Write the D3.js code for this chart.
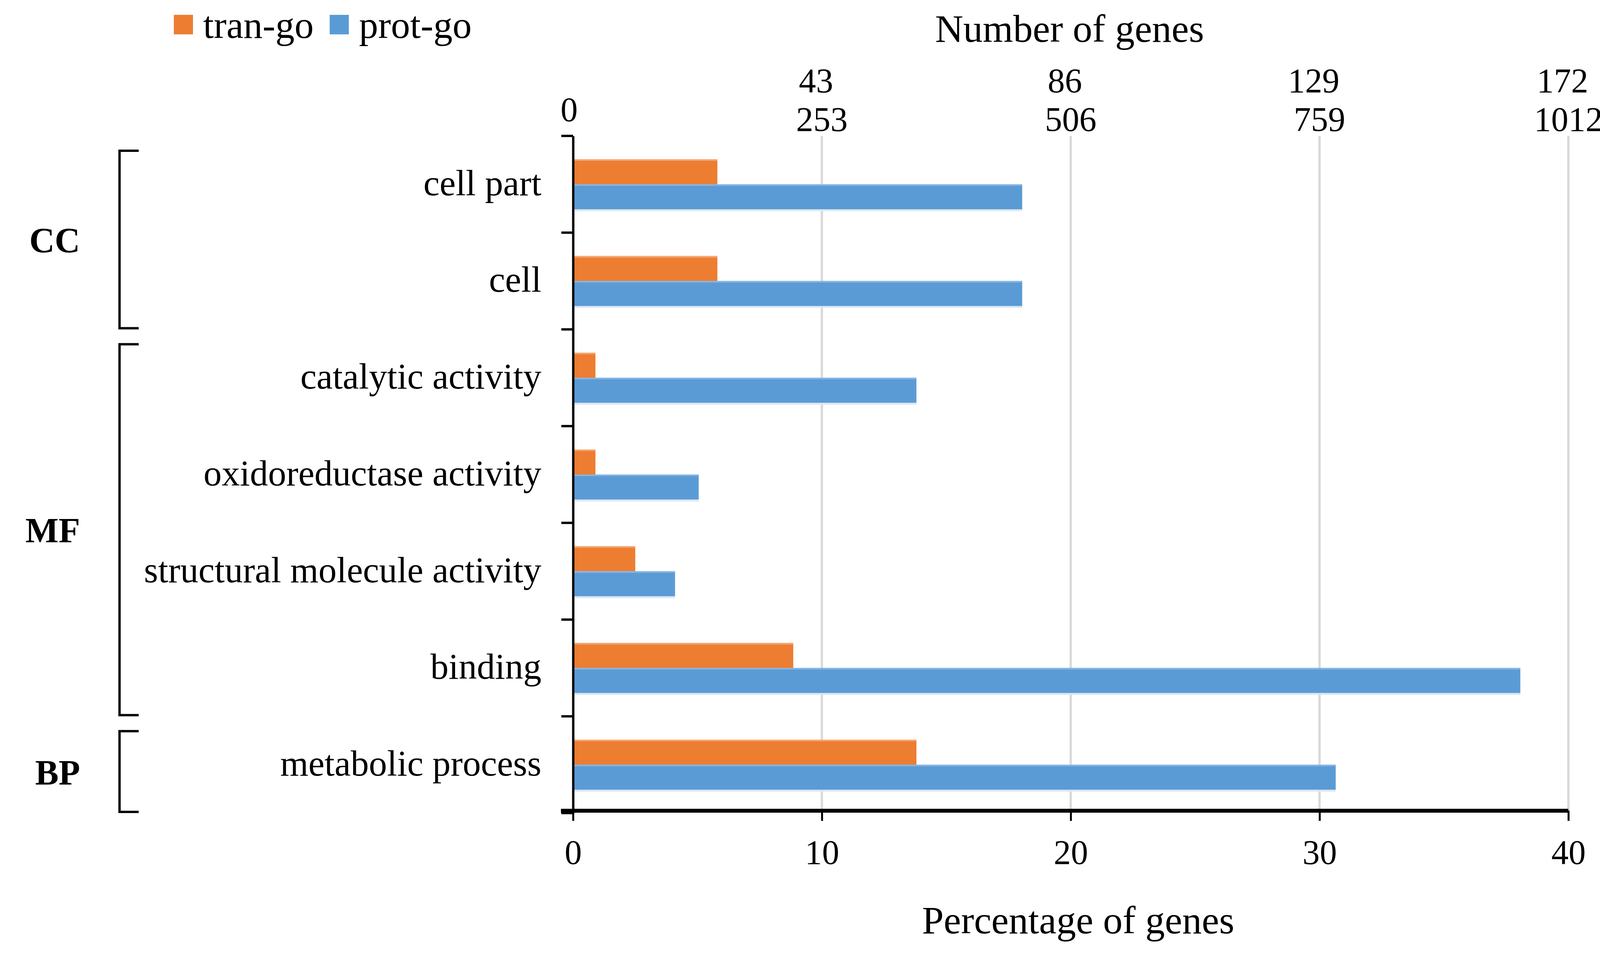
<!DOCTYPE html>
<html>
<head>
<meta charset="utf-8">
<script src="https://cdn.jsdelivr.net/npm/d3@7"></script>
<style>
  body { margin: 0; background: #fff; }
  svg { display: block; font-family: "Liberation Serif", "Times New Roman", serif; }
</style>
</head>
<body>
<svg id="chart"></svg>
<script>
// GO categories, top to bottom
const categories = ['cell part', 'cell', 'catalytic activity', 'oxidoreductase activity',
  'structural molecule activity', 'binding', 'metabolic process'];

// percentage of genes
const tranGo = [5.8, 5.8, 0.9, 0.9, 2.5, 8.85, 13.8];
const protGo = [18.05, 18.05, 13.8, 5.05, 4.1, 38.07, 30.65];

const seriesNames = ['tran-go', 'prot-go'];
const seriesColors = ['#ED7D31', '#5B9BD5'];
const seriesLight = ['#F4A672', '#86B5E2'];
const seriesShadow = ['#FBE3D3', '#DCE8F5'];

const pctTicks = [0, 10, 20, 30, 40];
const tranCountTicks = [43, 86, 129, 172];
const protCountTicks = [253, 506, 759, 1012];

const groupNames = ['CC', 'MF', 'BP'];
const groupFirst = ['cell part', 'catalytic activity', 'metabolic process'];
const groupLast = ['cell', 'binding', 'metabolic process'];

class GoBarChart {
  constructor(_config) {
    this.config = {
      parentElement: _config.parentElement,
      containerWidth: _config.containerWidth || 4133,
      containerHeight: _config.containerHeight || 2448,
      margin: _config.margin || {top: 348, right: 118, bottom: 366, left: 1467}
    };
    this.initVis();
  }

  initVis() {
    let vis = this;
    const m = vis.config.margin;
    vis.left = m.left;
    vis.right = vis.config.containerWidth - m.right;
    vis.top = m.top;
    vis.bottom = vis.config.containerHeight - m.bottom;

    vis.svg = d3.select(vis.config.parentElement)
        .attr('width', vis.config.containerWidth)
        .attr('height', vis.config.containerHeight);

    vis.xScale = d3.scaleLinear().domain([0, 40]).range([vis.left, vis.right]);
    // count scales share the same pixel range
    vis.xTran = d3.scaleLinear().domain([0, 172]).range(vis.xScale.range());
    vis.xProt = d3.scaleLinear().domain([0, 1012]).range(vis.xScale.range());

    vis.yScale = d3.scaleBand()
        .domain(categories)
        .range([vis.top, vis.bottom])
        .paddingInner(0.483)
        .paddingOuter(0.2415);

    vis.ySub = d3.scaleBand()
        .domain(seriesNames)
        .range([0, vis.yScale.bandwidth()]);

    vis.renderVis();
  }

  renderVis() {
    let vis = this;
    const x = vis.xScale, y = vis.yScale;
    const step = y.step();
    const bandTop = c => y(c) - (step - y.bandwidth()) / 2;

    // vertical gridlines
    vis.svg.append('g')
      .selectAll('line')
      .data(pctTicks.slice(1))
      .join('line')
        .attr('x1', d => x(d)).attr('x2', d => x(d))
        .attr('y1', vis.top).attr('y2', vis.bottom)
        .attr('stroke', '#D9D9D9')
        .attr('stroke-width', 6);

    // bars
    const rows = categories.map((c, i) => ({cat: c, values: [tranGo[i], protGo[i]]}));
    const barG = vis.svg.append('g')
      .selectAll('g')
      .data(rows)
      .join('g')
        .attr('transform', d => `translate(0,${y(d.cat)})`);

    const bars = barG.selectAll('g')
      .data(d => d.values.map((v, j) => ({series: seriesNames[j], j: j, value: v})))
      .join('g');

    bars.append('rect')
        .attr('x', x(0))
        .attr('y', d => vis.ySub(d.series) + vis.ySub.bandwidth())
        .attr('width', d => x(d.value) - x(0))
        .attr('height', 5)
        .attr('fill', d => seriesShadow[d.j]);

    bars.append('rect')
        .attr('x', x(0))
        .attr('y', d => vis.ySub(d.series))
        .attr('width', d => x(d.value) - x(0))
        .attr('height', vis.ySub.bandwidth())
        .attr('fill', d => seriesColors[d.j]);

    bars.append('rect')
        .attr('x', x(0))
        .attr('y', d => vis.ySub(d.series))
        .attr('width', d => x(d.value) - x(0))
        .attr('height', 4)
        .attr('fill', d => seriesLight[d.j]);

    // left axis with category labels
    const yAxis = d3.axisLeft(y).tickSize(0).tickSizeOuter(0).tickPadding(81);
    const yAxisG = vis.svg.append('g')
        .attr('transform', `translate(${vis.left},0)`)
        .call(yAxis);
    yAxisG.select('.domain').attr('stroke', '#000').attr('stroke-width', 6);
    yAxisG.selectAll('text')
        .attr('font-family', '"Liberation Serif", serif')
        .attr('font-size', 93)
        .attr('fill', '#000')
        .attr('dy', '0.3em');

    // band boundary ticks on the left axis
    const boundaries = categories.map(bandTop).concat([vis.bottom]);
    vis.svg.append('g')
      .selectAll('line')
      .data(boundaries)
      .join('line')
        .attr('x1', vis.left - 30).attr('x2', vis.left)
        .attr('y1', d => d).attr('y2', d => d)
        .attr('stroke', '#000')
        .attr('stroke-width', 6);

    // bottom axis
    const xAxis = d3.axisBottom(x).tickValues(pctTicks).tickSize(26).tickSizeOuter(0).tickPadding(48);
    const xAxisG = vis.svg.append('g')
        .attr('transform', `translate(0,${vis.bottom - 6})`)
        .call(xAxis);
    xAxisG.select('.domain').remove();
    xAxisG.selectAll('.tick line').attr('stroke', '#000').attr('stroke-width', 5);
    xAxisG.selectAll('text')
        .attr('font-family', '"Liberation Serif", serif')
        .attr('font-size', 88)
        .attr('fill', '#000');
    xAxisG.append('line')
        .attr('x1', vis.left - 31).attr('x2', vis.right)
        .attr('y1', 0).attr('y2', 0)
        .attr('stroke', '#000')
        .attr('stroke-width', 10);

    // top count labels
    const topG = vis.svg.append('g')
        .attr('font-size', 88)
        .attr('text-anchor', 'middle')
        .attr('fill', '#000');
    topG.append('text')
        .attr('x', vis.xTran(0) - 10)
        .attr('y', 310)
        .text('0');
    topG.selectAll('.tran')
      .data(tranCountTicks)
      .join('text')
        .attr('class', 'tran')
        .attr('x', d => vis.xTran(d) - 15)
        .attr('y', 236)
        .text(d => d);
    topG.selectAll('.prot')
      .data(protCountTicks)
      .join('text')
        .attr('class', 'prot')
        .attr('x', d => vis.xProt(d))
        .attr('y', 335)
        .text(d => d);

    // axis titles
    vis.svg.append('text')
        .attr('x', 2738).attr('y', 107)
        .attr('text-anchor', 'middle')
        .attr('font-size', 100)
        .text('Number of genes');
    vis.svg.append('text')
        .attr('x', 2760).attr('y', 2390)
        .attr('text-anchor', 'middle')
        .attr('font-size', 100)
        .text('Percentage of genes');

    // group brackets
    const groupData = groupNames.map((g, i) => ({
      name: g,
      y0: bandTop(groupFirst[i]) + 38,
      y1: bandTop(groupLast[i]) + step - 3
    }));
    const bx = 306, armX = 355;
    const gG = vis.svg.append('g')
      .selectAll('g')
      .data(groupData)
      .join('g');
    gG.append('path')
        .attr('d', d => `M${armX},${d.y0}H${bx}V${d.y1}H${armX}`)
        .attr('fill', 'none')
        .attr('stroke', '#000')
        .attr('stroke-width', 6);
    gG.append('text')
        .attr('x', 205)
        .attr('y', d => (d.y0 + d.y1) / 2 + 33)
        .attr('text-anchor', 'end')
        .attr('font-size', 90)
        .attr('font-weight', 'bold')
        .text(d => d.name);

    // legend
    const legendX = [445, 844];
    const legend = vis.svg.append('g')
      .selectAll('g')
      .data(seriesNames)
      .join('g')
        .attr('transform', (d, i) => `translate(${legendX[i]},0)`);
    legend.append('rect')
        .attr('x', 0).attr('y', 38)
        .attr('width', 49).attr('height', 50)
        .attr('fill', (d, i) => seriesColors[i]);
    legend.append('text')
        .attr('x', 75).attr('y', 97)
        .attr('font-size', 98)
        .text(d => d);
  }
}

const chart = new GoBarChart({parentElement: '#chart'});
</script>
</body>
</html>
